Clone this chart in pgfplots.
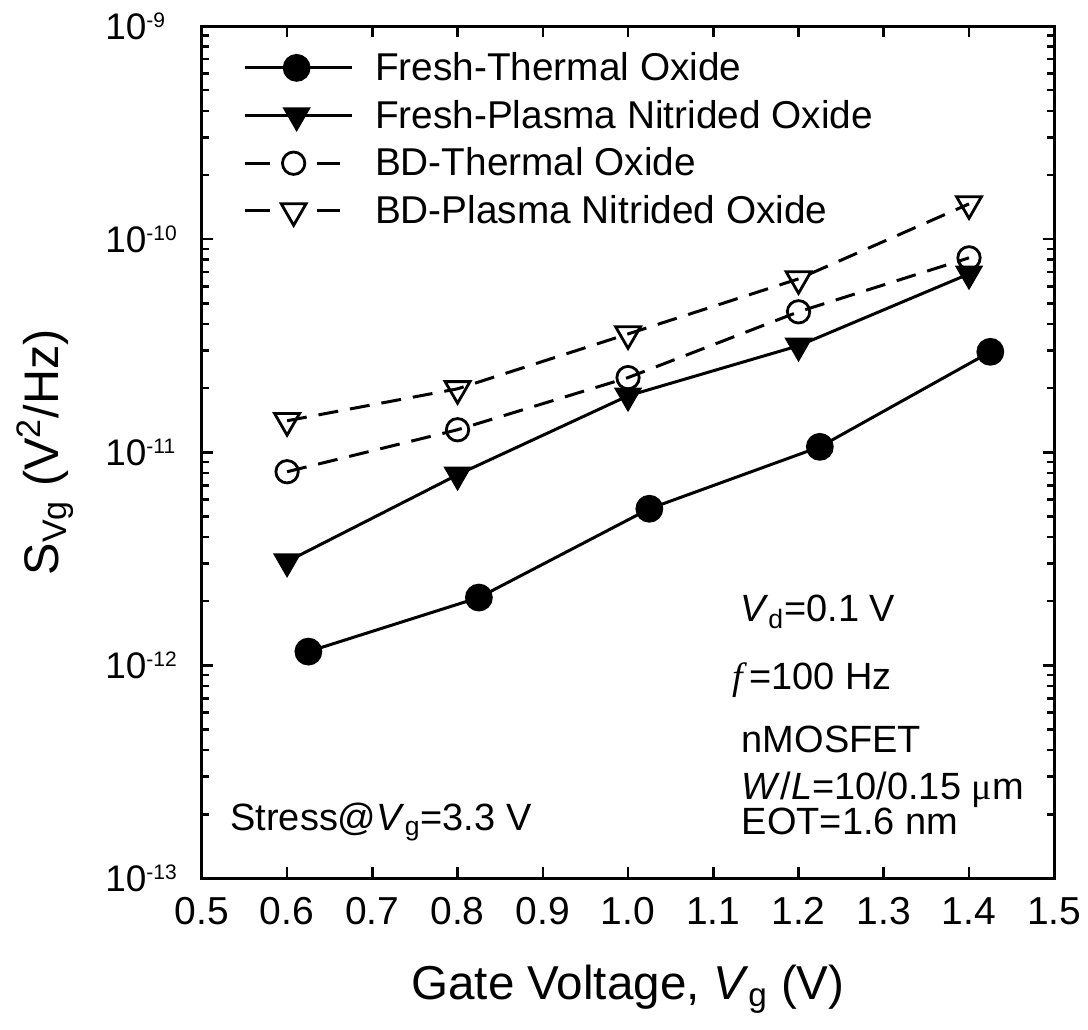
\documentclass[border=0pt]{standalone}
\usepackage{pgfplots}
\pgfplotsset{compat=1.18}
\usepackage{pgfplotstable}
\usepackage{fontspec}
\setmainfont{Liberation Sans}
\newfontfamily\seriffont{Liberation Serif}
\usetikzlibrary{plotmarks}

% decade exponent set as a small raised number
\newcommand{\supx}[1]{\raisebox{6pt}{\fontsize{10.5}{10.5}\selectfont #1}}

% Gate-voltage noise spectral density, S_Vg (V^2/Hz)
\pgfplotstableread{
x y
0.625 1.16e-12
0.825 2.08e-12
1.025 5.43e-12
1.225 1.06e-11
1.425 2.96e-11
}\freshthermal
\pgfplotstableread{
x y
0.6 3.07e-12
0.8 7.84e-12
1.0 1.84e-11
1.2 3.16e-11
1.4 6.87e-11
}\freshplasma
\pgfplotstableread{
x y
0.6 8.10e-12
0.8 1.275e-11
1.0 2.24e-11
1.2 4.56e-11
1.4 8.17e-11
}\bdthermal
\pgfplotstableread{
x y
0.6 1.405e-11
0.8 1.985e-11
1.0 3.59e-11
1.2 6.51e-11
1.4 1.463e-10
}\bdplasma

\begin{document}
\begin{tikzpicture}
\begin{axis}[
  scale only axis,
  width=426.5pt, height=426.5pt,
  ymode=log,
  xmin=0.5, xmax=1.5,
  ymin=1e-13, ymax=1e-9,
  axis line style={line width=1.5pt},
  every tick/.style={line width=1.3pt, black},
  tick align=inside,
  major tick length=5.5pt,
  minor tick length=3.5pt,
  xtick={0.5,0.6,0.7,0.8,0.9,1.0,1.1,1.2,1.3,1.4,1.5},
  xticklabels={0.5,0.6,0.7,0.8,0.9,1.0,1.1,1.2,1.3,1.4,1.5},
  ytick={1e-13,1e-12,1e-11,1e-10,1e-9},
  yticklabels={10\supx{-13},10\supx{-12},10\supx{-11},10\supx{-10},10\supx{-9}},
  xticklabel style={font=\fontsize{19.5}{22}\selectfont, yshift=-6pt},
  yticklabel style={font=\fontsize{18.5}{22}\selectfont, anchor=west, inner sep=0pt, xshift=-48.5pt},
  xlabel={Gate Voltage, \textit{V}\textsubscript{g} (V)},
  ylabel={S\textsubscript{Vg} (V\textsuperscript{2}/Hz)},
  xlabel style={font=\fontsize{23.8}{26}\selectfont, at={(axis description cs:0.5,-0.130)}, anchor=center},
  ylabel style={font=\fontsize{24.3}{26}\selectfont, at={(axis description cs:-0.184,0.5)}, anchor=center},
  legend style={
    at={(axis description cs:0.041,0.979)}, anchor=north west,
    draw=none, fill=none,
    font=\fontsize{19.4}{21}\selectfont,
    row sep=4.3pt,
  },
  legend cell align=left,
  clip=false,
]
\addplot[black, line width=1.5pt, mark=*, mark size=6.2pt,
  legend image code/.code={
    \draw[mark repeat=2,mark phase=2] plot coordinates {(0pt,0pt) (26pt,0pt) (53.5pt,0pt)};
    \path (62.5pt,0pt);}]
  table {\freshthermal};
\addlegendentry{Fresh-Thermal Oxide}

\addplot[black, line width=1.5pt, mark=triangle*, mark size=7.2pt,
  mark options={rotate=180, line width=1pt},
  legend image code/.code={
    \draw[mark repeat=2,mark phase=2] plot coordinates {(0pt,0pt) (26pt,0pt) (53.5pt,0pt)};
    \path (62.5pt,0pt);}]
  table {\freshplasma};
\addlegendentry{Fresh-Plasma Nitrided Oxide}

\addplot[black, line width=1.5pt, dash pattern=on 10pt off 6pt,
  mark=o, mark size=5.6pt, mark options={solid, fill=white, line width=1.4pt},
  legend image code/.code={
    \draw[solid] (0pt,0pt) -- (12.5pt,0pt);
    \draw[solid] (36pt,0pt) -- (47.5pt,0pt);
    \path (62.5pt,0pt);
    \draw[only marks] plot coordinates {(24.5pt,0pt)};}]
  table {\bdthermal};
\addlegendentry{BD-Thermal Oxide}

\addplot[black, line width=1.5pt, dash pattern=on 10pt off 6pt,
  mark=triangle, mark size=7.2pt, mark options={solid, rotate=180, fill=white, line width=1.4pt},
  legend image code/.code={
    \draw[solid] (0pt,0pt) -- (12.5pt,0pt);
    \draw[solid] (36pt,0pt) -- (47.5pt,0pt);
    \path (62.5pt,0pt);
    \draw[only marks] plot coordinates {(24.5pt,0pt)};}]
  table {\bdplasma};
\addlegendentry{BD-Plasma Nitrided Oxide}

% measurement conditions
\begin{scope}[every node/.style={anchor=west, inner sep=0pt, font=\fontsize{19}{22}\selectfont}]
\node at (rel axis cs:0.631,0.313) {\textit{V}\textsubscript{d}=0.1 V};
\node at (rel axis cs:0.622,0.233) {{\seriffont\itshape f\,}=100 Hz};
\node at (rel axis cs:0.633,0.163) {nMOSFET};
\node at (rel axis cs:0.633,0.104) {\textit{W}/\textit{L}=10/0.15 {\seriffont μ}m};
\node at (rel axis cs:0.633,0.067) {EOT=1.6 nm};
\node at (rel axis cs:0.033,0.066) {Stress@\textit{V}\textsubscript{g}=3.3 V};
\end{scope}

\coordinate (pagebl) at (rel axis cs:-0.2368,-0.177);
\coordinate (pagetr) at (rel axis cs:1.0387,1.0305);
\end{axis}
\path (pagebl) rectangle (pagetr);
\end{tikzpicture}
\end{document}
